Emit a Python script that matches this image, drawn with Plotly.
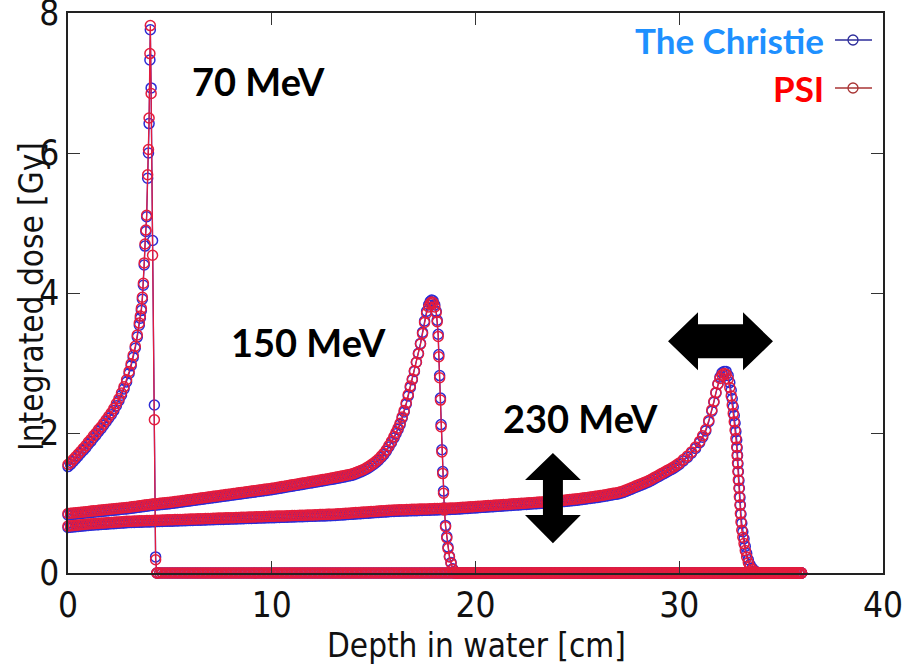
import plotly.graph_objects as go

# ---------------------------------------------------------------------------
# Depth grid (cm), 1.25 mm steps, used for the flat parts of the curves
# ---------------------------------------------------------------------------
depth_grid = [
    0.0, 0.125, 0.25, 0.375, 0.5, 0.625, 0.75, 0.875,
    1.0, 1.125, 1.25, 1.375, 1.5, 1.625, 1.75, 1.875,
    2.0, 2.125, 2.25, 2.375, 2.5, 2.625, 2.75, 2.875,
    3.0, 3.125, 3.25, 3.375, 3.5, 3.625, 3.75, 3.875,
    4.0, 4.125, 4.25, 4.375, 4.5, 4.625, 4.75, 4.875,
    5.0, 5.125, 5.25, 5.375, 5.5, 5.625, 5.75, 5.875,
    6.0, 6.125, 6.25, 6.375, 6.5, 6.625, 6.75, 6.875,
    7.0, 7.125, 7.25, 7.375, 7.5, 7.625, 7.75, 7.875,
    8.0, 8.125, 8.25, 8.375, 8.5, 8.625, 8.75, 8.875,
    9.0, 9.125, 9.25, 9.375, 9.5, 9.625, 9.75, 9.875,
    10.0, 10.125, 10.25, 10.375, 10.5, 10.625, 10.75, 10.875,
    11.0, 11.125, 11.25, 11.375, 11.5, 11.625, 11.75, 11.875,
    12.0, 12.125, 12.25, 12.375, 12.5, 12.625, 12.75, 12.875,
    13.0, 13.125, 13.25, 13.375, 13.5, 13.625, 13.75, 13.875,
    14.0, 14.125, 14.25, 14.375, 14.5, 14.625, 14.75, 14.875,
    15.0, 15.125, 15.25, 15.375, 15.5, 15.625, 15.75, 15.875,
    16.0, 16.125, 16.25, 16.375, 16.5, 16.625, 16.75, 16.875,
    17.0, 17.125, 17.25, 17.375, 17.5, 17.625, 17.75, 17.875,
    18.0, 18.125, 18.25, 18.375, 18.5, 18.625, 18.75, 18.875,
    19.0, 19.125, 19.25, 19.375, 19.5, 19.625, 19.75, 19.875,
    20.0, 20.125, 20.25, 20.375, 20.5, 20.625, 20.75, 20.875,
    21.0, 21.125, 21.25, 21.375, 21.5, 21.625, 21.75, 21.875,
    22.0, 22.125, 22.25, 22.375, 22.5, 22.625, 22.75, 22.875,
    23.0, 23.125, 23.25, 23.375, 23.5, 23.625, 23.75, 23.875,
    24.0, 24.125, 24.25, 24.375, 24.5, 24.625, 24.75, 24.875,
    25.0, 25.125, 25.25, 25.375, 25.5, 25.625, 25.75, 25.875,
    26.0, 26.125, 26.25, 26.375, 26.5, 26.625, 26.75, 26.875,
    27.0, 27.125, 27.25, 27.375, 27.5, 27.625, 27.75, 27.875,
    28.0, 28.125, 28.25, 28.375, 28.5, 28.625, 28.75, 28.875,
    29.0, 29.125, 29.25, 29.375, 29.5, 29.625, 29.75, 29.875,
    30.0, 30.125, 30.25, 30.375, 30.5, 30.625, 30.75, 30.875,
    31.0, 31.125, 31.25, 31.375, 31.5, 31.625, 31.75, 31.875,
    32.0, 32.125, 32.25, 32.375, 32.5, 32.625, 32.75, 32.875,
    33.0, 33.125, 33.25, 33.375, 33.5, 33.625, 33.75, 33.875,
    34.0, 34.125, 34.25, 34.375, 34.5, 34.625, 34.75, 34.875,
    35.0, 35.125, 35.25, 35.375, 35.5, 35.625, 35.75, 35.875,
    36.0,
]

# Distal tail beyond the Bragg peaks (depth 4.375 .. 36 cm), dose in Gy
tail_depth = depth_grid[35:]
tail_dose = [
    0, 0, 0, 0, 0, 0, 0, 0, 0, 0, 0, 0, 0, 0, 0, 0, 0, 0, 0, 0,
    0, 0, 0, 0, 0, 0, 0, 0, 0, 0, 0, 0, 0, 0, 0, 0, 0, 0, 0, 0,
    0, 0, 0, 0, 0, 0, 0, 0, 0, 0, 0, 0, 0, 0, 0, 0, 0, 0, 0, 0,
    0, 0, 0, 0, 0, 0, 0, 0, 0, 0, 0, 0, 0, 0, 0, 0, 0, 0, 0, 0,
    0, 0, 0, 0, 0, 0, 0, 0, 0, 0, 0, 0, 0, 0, 0, 0, 0, 0, 0, 0,
    0, 0, 0, 0, 0, 0, 0, 0, 0, 0, 0, 0, 0, 0, 0, 0, 0, 0, 0, 0,
    0, 0, 0, 0, 0, 0, 0, 0, 0, 0, 0, 0, 0, 0, 0, 0, 0, 0, 0, 0,
    0, 0, 0, 0, 0, 0, 0, 0, 0, 0, 0, 0, 0, 0, 0, 0, 0, 0, 0, 0,
    0, 0, 0, 0, 0, 0, 0, 0, 0, 0, 0, 0, 0, 0, 0, 0, 0, 0, 0, 0,
    0, 0, 0, 0, 0, 0, 0, 0, 0, 0, 0, 0, 0, 0, 0, 0, 0, 0, 0, 0,
    0, 0, 0, 0, 0, 0, 0, 0, 0, 0, 0, 0, 0, 0, 0, 0, 0, 0, 0, 0,
    0, 0, 0, 0, 0, 0, 0, 0, 0, 0, 0, 0, 0, 0, 0, 0, 0, 0, 0, 0,
    0, 0, 0, 0, 0, 0, 0, 0, 0, 0, 0, 0, 0, 0,
]

# ---------------------------------------------------------------------------
# 70 MeV
# ---------------------------------------------------------------------------
depth_70 = depth_grid[:25] + [
    3.1, 3.2, 3.3, 3.4, 3.5, 3.55, 3.6, 3.65, 3.7, 3.74, 3.78, 3.82,
    3.86, 3.91, 3.95, 3.98, 4.02, 4.04, 4.08, 4.15, 4.24, 4.30, 4.36,
]
psi_70 = [
    1.55, 1.58, 1.62, 1.66, 1.70, 1.74, 1.78, 1.82,
    1.87, 1.91, 1.96, 2.00, 2.05, 2.09, 2.14, 2.19,
    2.24, 2.29, 2.35, 2.42, 2.49, 2.57, 2.66, 2.76,
    2.88,
    2.99, 3.11, 3.24, 3.40, 3.57, 3.67, 3.78, 3.94, 4.14, 4.43, 4.70, 4.90,
    5.11, 5.69, 6.05, 6.50, 7.42, 7.82, 6.85, 4.54, 2.19, 0.19, 0.0,
]
christie_70 = [
    1.52, 1.55, 1.59, 1.63, 1.67, 1.71, 1.75, 1.79,
    1.84, 1.88, 1.93, 1.97, 2.02, 2.06, 2.11, 2.16,
    2.21, 2.26, 2.32, 2.39, 2.46, 2.54, 2.63, 2.73,
    2.85,
    2.96, 3.08, 3.21, 3.37, 3.54, 3.64, 3.75, 3.91, 4.11, 4.40, 4.67, 4.88,
    5.09, 5.64, 6.00, 6.42, 7.33, 7.76, 6.93, 4.75, 2.40, 0.23, 0.0,
]

# ---------------------------------------------------------------------------
# 150 MeV
# ---------------------------------------------------------------------------
depth_150 = depth_grid[:129] + [
    16.1, 16.2, 16.3, 16.4, 16.5, 16.6, 16.7, 16.8, 16.9, 17.0, 17.1, 17.2,
    17.3, 17.4, 17.5, 17.6, 17.7,
    17.78, 17.85, 17.92, 18.0, 18.07, 18.12, 18.17, 18.2, 18.24, 18.28, 18.31,
    18.35, 18.39, 18.43, 18.47, 18.53, 18.59, 18.65, 18.72, 18.8, 18.88, 18.97,
]
psi_150 = [
    0.850, 0.854, 0.858, 0.861, 0.865, 0.869, 0.873, 0.876,
    0.880, 0.884, 0.888, 0.891, 0.895, 0.899, 0.903, 0.906,
    0.910, 0.914, 0.918, 0.921, 0.925, 0.929, 0.933, 0.936,
    0.940, 0.945, 0.950, 0.955, 0.960, 0.965, 0.970, 0.975,
    0.980, 0.984, 0.988, 0.991, 0.995, 0.999, 1.003, 1.006,
    1.010, 1.015, 1.020, 1.025, 1.030, 1.035, 1.040, 1.045,
    1.050, 1.055, 1.060, 1.065, 1.070, 1.075, 1.080, 1.085,
    1.090, 1.095, 1.100, 1.105, 1.110, 1.115, 1.120, 1.125,
    1.130, 1.135, 1.140, 1.145, 1.150, 1.155, 1.160, 1.165,
    1.170, 1.175, 1.180, 1.185, 1.190, 1.195, 1.200, 1.205,
    1.210, 1.216, 1.222, 1.229, 1.235, 1.241, 1.248, 1.254,
    1.260, 1.266, 1.272, 1.279, 1.285, 1.291, 1.298, 1.304,
    1.310, 1.316, 1.322, 1.329, 1.335, 1.341, 1.348, 1.354,
    1.360, 1.367, 1.374, 1.381, 1.389, 1.396, 1.404, 1.412,
    1.420, 1.435, 1.450, 1.465, 1.480, 1.500, 1.520, 1.545,
    1.570, 1.600, 1.630, 1.670, 1.710, 1.760, 1.820, 1.880,
    1.950,
    2.01, 2.07, 2.14, 2.23, 2.32, 2.43, 2.55, 2.67, 2.77, 2.89, 3.01, 3.13,
    3.27, 3.42, 3.58, 3.71, 3.80,
    3.85, 3.87, 3.86, 3.80, 3.72, 3.59, 3.38, 3.09, 2.79, 2.47, 2.09,
    1.73, 1.42, 1.14, 0.90, 0.66, 0.50, 0.35, 0.23, 0.14, 0.05, 0.01,
]
christie_150 = [
    0.830, 0.834, 0.838, 0.841, 0.845, 0.849, 0.853, 0.856,
    0.860, 0.864, 0.868, 0.871, 0.875, 0.879, 0.883, 0.886,
    0.890, 0.894, 0.898, 0.901, 0.905, 0.909, 0.913, 0.916,
    0.920, 0.925, 0.930, 0.935, 0.940, 0.945, 0.950, 0.955,
    0.960, 0.964, 0.968, 0.971, 0.975, 0.979, 0.983, 0.986,
    0.990, 0.995, 1.000, 1.005, 1.010, 1.015, 1.020, 1.025,
    1.030, 1.035, 1.040, 1.045, 1.050, 1.055, 1.060, 1.065,
    1.070, 1.075, 1.080, 1.085, 1.090, 1.095, 1.100, 1.105,
    1.110, 1.115, 1.120, 1.125, 1.130, 1.135, 1.140, 1.145,
    1.150, 1.155, 1.160, 1.165, 1.170, 1.175, 1.180, 1.185,
    1.190, 1.196, 1.202, 1.209, 1.215, 1.221, 1.228, 1.234,
    1.240, 1.246, 1.252, 1.259, 1.265, 1.271, 1.278, 1.284,
    1.290, 1.296, 1.302, 1.309, 1.315, 1.321, 1.328, 1.334,
    1.340, 1.347, 1.354, 1.361, 1.369, 1.376, 1.384, 1.392,
    1.400, 1.415, 1.430, 1.445, 1.460, 1.480, 1.500, 1.525,
    1.550, 1.580, 1.610, 1.650, 1.690, 1.740, 1.800, 1.860,
    1.930,
    1.99, 2.05, 2.12, 2.21, 2.30, 2.41, 2.53, 2.65, 2.76, 2.88, 3.01, 3.14,
    3.28, 3.44, 3.60, 3.74, 3.83,
    3.88, 3.90, 3.89, 3.83, 3.74, 3.61, 3.41, 3.12, 2.82, 2.50, 2.12,
    1.76, 1.45, 1.17, 0.93, 0.68, 0.52, 0.37, 0.24, 0.15, 0.06, 0.01,
]

# ---------------------------------------------------------------------------
# 230 MeV
# ---------------------------------------------------------------------------
depth_230 = depth_grid[:241] + [
    30.2, 30.4, 30.6, 30.8, 31.0, 31.15, 31.3, 31.45, 31.6,
    31.7, 31.8, 31.9, 32.0, 32.1, 32.2, 32.3, 32.4,
    32.48, 32.55, 32.6, 32.65, 32.7, 32.74, 32.78, 32.82,
    32.84, 32.86, 32.88, 32.9, 32.93, 32.95, 32.98, 33.0,
    33.03, 33.07, 33.12, 33.18, 33.24, 33.31, 33.39, 33.47,
    33.58, 33.72,
]
psi_230 = [
    0.670, 0.674, 0.678, 0.681, 0.685, 0.689, 0.693, 0.696,
    0.700, 0.703, 0.705, 0.708, 0.710, 0.713, 0.715, 0.718,
    0.720, 0.723, 0.725, 0.728, 0.730, 0.733, 0.735, 0.738,
    0.740, 0.741, 0.743, 0.744, 0.745, 0.746, 0.748, 0.749,
    0.750, 0.751, 0.753, 0.754, 0.755, 0.756, 0.758, 0.759,
    0.760, 0.761, 0.763, 0.764, 0.765, 0.766, 0.768, 0.769,
    0.770, 0.771, 0.773, 0.774, 0.775, 0.776, 0.778, 0.779,
    0.780, 0.781, 0.783, 0.784, 0.785, 0.786, 0.788, 0.789,
    0.790, 0.791, 0.793, 0.794, 0.795, 0.796, 0.798, 0.799,
    0.800, 0.801, 0.803, 0.804, 0.805, 0.806, 0.808, 0.809,
    0.810, 0.811, 0.813, 0.814, 0.815, 0.816, 0.818, 0.819,
    0.820, 0.821, 0.823, 0.824, 0.825, 0.826, 0.828, 0.829,
    0.830, 0.831, 0.833, 0.834, 0.835, 0.836, 0.838, 0.839,
    0.840, 0.843, 0.845, 0.848, 0.850, 0.853, 0.855, 0.858,
    0.860, 0.863, 0.865, 0.868, 0.870, 0.873, 0.875, 0.878,
    0.880, 0.883, 0.885, 0.888, 0.890, 0.893, 0.895, 0.898,
    0.900, 0.901, 0.903, 0.904, 0.905, 0.906, 0.908, 0.909,
    0.910, 0.911, 0.913, 0.914, 0.915, 0.916, 0.918, 0.919,
    0.920, 0.921, 0.923, 0.924, 0.925, 0.926, 0.928, 0.929,
    0.930, 0.933, 0.935, 0.938, 0.940, 0.943, 0.945, 0.948,
    0.950, 0.953, 0.955, 0.958, 0.960, 0.963, 0.965, 0.968,
    0.970, 0.973, 0.975, 0.978, 0.980, 0.983, 0.985, 0.988,
    0.990, 0.993, 0.995, 0.998, 1.000, 1.003, 1.005, 1.008,
    1.010, 1.013, 1.015, 1.018, 1.020, 1.023, 1.025, 1.028,
    1.030, 1.034, 1.038, 1.041, 1.045, 1.049, 1.053, 1.056,
    1.060, 1.065, 1.070, 1.075, 1.080, 1.085, 1.090, 1.095,
    1.100, 1.106, 1.112, 1.119, 1.125, 1.131, 1.138, 1.144,
    1.150, 1.160, 1.170, 1.185, 1.200, 1.215, 1.230, 1.245,
    1.260, 1.275, 1.290, 1.305, 1.320, 1.340, 1.360, 1.380,
    1.400, 1.420, 1.440, 1.460, 1.480, 1.500, 1.520, 1.545,
    1.570,
    1.62, 1.67, 1.73, 1.80, 1.88, 1.96, 2.05, 2.18, 2.33,
    2.45, 2.58, 2.70, 2.78, 2.83, 2.85, 2.84, 2.77,
    2.65, 2.53, 2.40, 2.28, 2.16, 2.04, 1.92, 1.80,
    1.68, 1.57, 1.45, 1.33, 1.21, 1.09, 0.97, 0.85,
    0.73, 0.61, 0.51, 0.42, 0.32, 0.23, 0.15, 0.09,
    0.05, 0.02,
]
christie_230 = [
    0.650, 0.654, 0.658, 0.661, 0.665, 0.669, 0.673, 0.676,
    0.680, 0.683, 0.685, 0.688, 0.690, 0.693, 0.695, 0.698,
    0.700, 0.703, 0.705, 0.708, 0.710, 0.713, 0.715, 0.718,
    0.720, 0.721, 0.723, 0.724, 0.725, 0.726, 0.728, 0.729,
    0.730, 0.731, 0.733, 0.734, 0.735, 0.736, 0.738, 0.739,
    0.740, 0.741, 0.743, 0.744, 0.745, 0.746, 0.748, 0.749,
    0.750, 0.751, 0.753, 0.754, 0.755, 0.756, 0.758, 0.759,
    0.760, 0.761, 0.763, 0.764, 0.765, 0.766, 0.768, 0.769,
    0.770, 0.771, 0.773, 0.774, 0.775, 0.776, 0.778, 0.779,
    0.780, 0.781, 0.783, 0.784, 0.785, 0.786, 0.788, 0.789,
    0.790, 0.791, 0.793, 0.794, 0.795, 0.796, 0.798, 0.799,
    0.800, 0.801, 0.803, 0.804, 0.805, 0.806, 0.808, 0.809,
    0.810, 0.811, 0.813, 0.814, 0.815, 0.816, 0.818, 0.819,
    0.820, 0.823, 0.825, 0.828, 0.830, 0.833, 0.835, 0.838,
    0.840, 0.843, 0.845, 0.848, 0.850, 0.853, 0.855, 0.858,
    0.860, 0.863, 0.865, 0.868, 0.870, 0.873, 0.875, 0.878,
    0.880, 0.881, 0.883, 0.884, 0.885, 0.886, 0.888, 0.889,
    0.890, 0.891, 0.893, 0.894, 0.895, 0.896, 0.898, 0.899,
    0.900, 0.901, 0.903, 0.904, 0.905, 0.906, 0.908, 0.909,
    0.910, 0.913, 0.915, 0.918, 0.920, 0.923, 0.925, 0.928,
    0.930, 0.933, 0.935, 0.938, 0.940, 0.943, 0.945, 0.948,
    0.950, 0.953, 0.955, 0.958, 0.960, 0.963, 0.965, 0.968,
    0.970, 0.973, 0.975, 0.978, 0.980, 0.983, 0.985, 0.988,
    0.990, 0.993, 0.995, 0.998, 1.000, 1.003, 1.005, 1.008,
    1.010, 1.014, 1.018, 1.021, 1.025, 1.029, 1.033, 1.036,
    1.040, 1.045, 1.050, 1.055, 1.060, 1.065, 1.070, 1.075,
    1.080, 1.086, 1.092, 1.099, 1.105, 1.111, 1.118, 1.124,
    1.130, 1.140, 1.150, 1.165, 1.180, 1.195, 1.210, 1.225,
    1.240, 1.255, 1.270, 1.285, 1.300, 1.320, 1.340, 1.360,
    1.380, 1.400, 1.420, 1.440, 1.460, 1.480, 1.500, 1.525,
    1.550,
    1.60, 1.65, 1.71, 1.78, 1.86, 1.94, 2.03, 2.16, 2.31,
    2.44, 2.57, 2.70, 2.80, 2.86, 2.88, 2.88, 2.82,
    2.72, 2.61, 2.49, 2.37, 2.25, 2.14, 2.02, 1.90,
    1.79, 1.68, 1.56, 1.45, 1.32, 1.21, 1.08, 0.97,
    0.84, 0.71, 0.59, 0.49, 0.38, 0.28, 0.19, 0.12,
    0.07, 0.03,
]

# Series order and styling
BLUE = "#2b2bd6"
RED = "#e31c3d"
energies = ["70 MeV", "150 MeV", "230 MeV"]
christie_sets = [(depth_70, christie_70), (depth_150, christie_150), (depth_230, christie_230)]
psi_sets = [(depth_70, psi_70), (depth_150, psi_150), (depth_230, psi_230)]


def with_tail(depth, dose):
    """Append the zero-dose tail readings that lie beyond the last listed depth."""
    xs, ys = list(depth), list(dose)
    for d, v in zip(tail_depth, tail_dose):
        if d > depth[-1] + 1e-9:
            xs.append(d)
            ys.append(v)
    return xs, ys


fig = go.Figure()

for label_text, sets, color in (("The Christie", christie_sets, BLUE), ("PSI", psi_sets, RED)):
    for energy, (d, v) in zip(energies, sets):
        xs, ys = with_tail(d, v)
        fig.add_trace(go.Scatter(
            x=xs, y=ys, mode="lines+markers",
            name=f"{label_text} {energy}",
            line=dict(color=color, width=1.3),
            marker=dict(symbol="circle-open", size=10, color=color,
                        line=dict(color=color, width=1.5)),
            cliponaxis=False, showlegend=False,
        ))

# ---------------------------------------------------------------------------
# Layout
# ---------------------------------------------------------------------------
W, H = 903, 668
ML, MR, MT, MB = 68, 20, 13, 95
PW, PH = W - ML - MR, H - MT - MB


def px(xp):
    return (xp - ML) / PW


def py(yp):
    return (H - MB - yp) / PH


AXIS_FAMILY = "DejaVu Sans Condensed, Liberation Sans Narrow, Liberation Sans, Arial"
TICK_FONT = dict(family=AXIS_FAMILY, size=35, color="#111")
TITLE_FONT = dict(family=AXIS_FAMILY, size=33, color="#111")
LABEL_FONT = "Lato, Calibri, Open Sans, sans-serif"

axis_common = dict(
    showgrid=False, zeroline=False, showline=True, mirror="ticks",
    linecolor="#222", linewidth=1.5, ticks="inside", ticklen=12,
    tickwidth=1.2, tickcolor="#333", tickfont=TICK_FONT,
    ticklabeloverflow="allow", automargin=False,
)

fig.update_layout(
    width=W, height=H,
    margin=dict(l=ML, r=MR, t=MT, b=MB, autoexpand=False),
    paper_bgcolor="white", plot_bgcolor="white",
    xaxis=dict(range=[0, 40], tickvals=[0, 10, 20, 30, 40], **axis_common),
    yaxis=dict(range=[0, 8], tickvals=[0, 2, 4, 6, 8], **axis_common),
)


def label(text, xp, yp, size, color, xanchor="center"):
    return dict(text=text, x=px(xp), y=py(yp), xref="paper", yref="paper",
                showarrow=False, xanchor=xanchor, yanchor="middle",
                font=dict(family=LABEL_FONT, size=size, color=color))


annotations = [
    # axis titles
    dict(text="Depth in water [cm]", x=px(476), y=py(645), xref="paper", yref="paper",
         showarrow=False, font=TITLE_FONT, xanchor="center", yanchor="middle"),
    dict(text="Integrated dose [Gy]", x=px(31), y=py(297), xref="paper", yref="paper",
         showarrow=False, font=TITLE_FONT, textangle=-90, xanchor="center", yanchor="middle"),
    # energy labels
    label("<b>70 MeV</b>", 258, 81, 38, "black"),
    label("<b>150 MeV</b>", 308, 342, 38, "black"),
    label("<b>230 MeV</b>", 580, 418, 38, "black"),
    # legend labels
    label("<b>The Christie</b>", 826, 40, 35, "#1e90ff", xanchor="right"),
    label("<b>PSI</b>", 826, 88, 35, "#ff0000", xanchor="right"),
]
fig.update_layout(annotations=annotations)

shapes = []
# legend samples: short line with an open circle
for yp, col in ((40, "#2c2c9a"), (88, "#a83434")):
    shapes.append(dict(type="line", xref="paper", yref="paper",
                       x0=px(835), x1=px(872), y0=py(yp), y1=py(yp),
                       line=dict(color=col, width=1.3)))
    shapes.append(dict(type="circle", xref="paper", yref="paper",
                       xsizemode="pixel", ysizemode="pixel",
                       xanchor=px(853), yanchor=py(yp),
                       x0=-5, x1=5, y0=-5, y1=5,
                       line=dict(color=col, width=1.3), fillcolor="rgba(0,0,0,0)"))

# horizontal double arrow (range shift) above the 230 MeV peak
hx0, hb0, hb1, hx1 = 29.45, 30.92, 33.13, 34.6
hy, hh, hs = 3.31, 0.414, 0.243
h_path = (f"M {hx0},{hy} L {hb0},{hy + hh} L {hb0},{hy + hs} L {hb1},{hy + hs} "
          f"L {hb1},{hy + hh} L {hx1},{hy} L {hb1},{hy - hh} L {hb1},{hy - hs} "
          f"L {hb0},{hy - hs} L {hb0},{hy - hh} Z")
shapes.append(dict(type="path", xref="x", yref="y", path=h_path,
                   fillcolor="black", line=dict(width=0)))

# vertical double arrow (dose shift)
vx, vw, vs = 23.8, 1.37, 0.49
vt, vbt, vbb, vb = 1.714, 1.329, 0.829, 0.424
v_path = (f"M {vx},{vt} L {vx + vw},{vbt} L {vx + vs},{vbt} L {vx + vs},{vbb} "
          f"L {vx + vw},{vbb} L {vx},{vb} L {vx - vw},{vbb} L {vx - vs},{vbb} "
          f"L {vx - vs},{vbt} L {vx - vw},{vbt} Z")
shapes.append(dict(type="path", xref="x", yref="y", path=v_path,
                   fillcolor="black", line=dict(width=0)))

fig.update_layout(shapes=shapes)

fig.write_html("out.html")
